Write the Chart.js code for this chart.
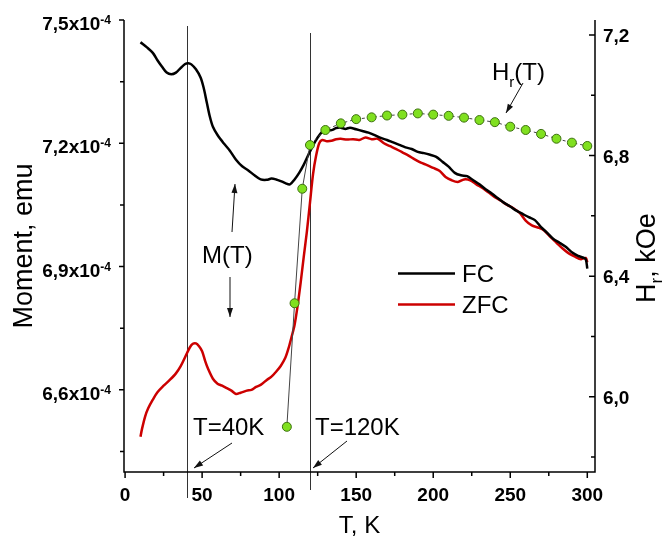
<!DOCTYPE html>
<html>
<head>
<meta charset="utf-8">
<script src="https://cdn.jsdelivr.net/npm/chart.js@4"></script>
<style>
  body { margin: 0; background: #fff; }
  #wrap { width: 668px; height: 537px; }
</style>
</head>
<body>
<div id="wrap"><canvas id="myChart"></canvas></div>
<script>
// temperature sweep, K
var fcTemp = [10, 14, 18, 21, 24, 27, 30, 33, 36, 39, 41, 43, 46, 49, 51, 53, 55, 57, 60, 64,
  68, 72, 76, 80, 84, 88, 92, 95, 98, 101, 104, 107, 110, 113, 116, 119, 122, 125, 128, 131,
  134, 137, 140, 143, 146, 150, 154, 158, 162, 166, 170, 174, 178, 182, 186, 190, 194, 198, 202, 206,
  210, 214, 218, 222, 226, 230, 234, 238, 242, 246, 250, 254, 258, 262, 266, 270, 274, 278, 282, 286,
  290, 294, 297, 299, 300];
// field-cooled moment, units of 1e-4 emu
var fcMoment = [7.446, 7.434, 7.420, 7.402, 7.386, 7.372, 7.368, 7.372, 7.383, 7.393, 7.395, 7.392, 7.380, 7.360, 7.335, 7.300, 7.265, 7.240, 7.220, 7.200,
  7.182, 7.160, 7.144, 7.134, 7.122, 7.112, 7.111, 7.114, 7.112, 7.108, 7.103, 7.100, 7.112, 7.128, 7.148, 7.172, 7.195, 7.214, 7.228, 7.233,
  7.232, 7.237, 7.238, 7.235, 7.238, 7.234, 7.230, 7.226, 7.220, 7.213, 7.208, 7.202, 7.196, 7.190, 7.186, 7.179, 7.176, 7.172, 7.167, 7.155,
  7.143, 7.128, 7.122, 7.120, 7.110, 7.100, 7.088, 7.078, 7.066, 7.055, 7.046, 7.036, 7.028, 7.020, 7.013, 6.996, 6.982, 6.967, 6.958, 6.948,
  6.935, 6.926, 6.922, 6.918, 6.895];

var zfcTemp = [10, 11, 13, 15, 18, 21, 25, 29, 33, 36, 39, 42, 44, 46, 48, 50, 52, 54, 57, 60,
  63, 66, 69, 72, 75, 79, 82, 85, 88, 92, 95, 98, 101, 104, 106, 108, 110, 112, 114, 116,
  118, 120, 122, 124, 126, 128, 131, 134, 137, 140, 144, 148, 152, 156, 160, 164, 168, 172, 176, 180,
  184, 188, 192, 196, 200, 204, 208, 212, 216, 220, 224, 228, 232, 236, 240, 244, 248, 252, 256, 260,
  264, 268, 272, 276, 280, 284, 288, 292, 296, 299, 300];
// zero-field-cooled moment, units of 1e-4 emu
var zfcMoment = [6.486, 6.505, 6.535, 6.555, 6.576, 6.594, 6.610, 6.624, 6.640, 6.657, 6.680, 6.703, 6.712, 6.713, 6.706, 6.694, 6.670, 6.650, 6.627, 6.615,
  6.610, 6.604, 6.598, 6.590, 6.593, 6.598, 6.600, 6.607, 6.612, 6.624, 6.632, 6.644, 6.658, 6.678, 6.700, 6.728, 6.758, 6.805, 6.862, 6.925,
  6.985, 7.055, 7.125, 7.170, 7.200, 7.208, 7.205, 7.206, 7.210, 7.211, 7.209, 7.210, 7.208, 7.214, 7.210, 7.211, 7.200, 7.193, 7.186, 7.178,
  7.170, 7.161, 7.153, 7.147, 7.140, 7.133, 7.118, 7.110, 7.106, 7.112, 7.110, 7.100, 7.091, 7.080, 7.069, 7.060, 7.050, 7.042, 7.031, 7.012,
  7.000, 6.995, 6.988, 6.972, 6.958, 6.944, 6.932, 6.924, 6.918, 6.921, 6.910];

// remanence field, kOe
var hrTemp = [105, 110, 115, 120, 130, 140, 150, 160, 170, 180, 190, 200, 210, 220, 230, 240, 250, 260, 270, 280, 290, 300];
var hrField = [5.90, 6.31, 6.69, 6.835, 6.885, 6.907, 6.921, 6.927, 6.933, 6.936, 6.940, 6.936, 6.932, 6.926, 6.918, 6.911, 6.896, 6.885, 6.872, 6.856, 6.843, 6.832];

var xTicks = [0, 50, 100, 150, 200, 250, 300];
var xMinor = [25, 75, 125, 175, 225, 275];
var leftTicks = [7.5, 7.2, 6.9, 6.6];
var leftMinor = [7.35, 7.05, 6.75, 6.45];
var rightTicks = [7.2, 6.8, 6.4, 6.0];
var rightMinor = [7.0, 6.6, 6.2, 5.8];
var markerTemps = [40, 120];

function pts(xs, ys) {
  return xs.map(function (x, i) { return {x: x, y: ys[i]}; });
}

var FONT = '"Liberation Sans", Arial, sans-serif';

function arrow(ctx, x1, y1, x2, y2) {
  var a = Math.atan2(y2 - y1, x2 - x1);
  ctx.beginPath();
  ctx.moveTo(x1, y1);
  ctx.lineTo(x2, y2);
  ctx.stroke();
  ctx.beginPath();
  ctx.moveTo(x2, y2);
  ctx.lineTo(x2 - 9 * Math.cos(a) + 3 * Math.sin(a), y2 - 9 * Math.sin(a) - 3 * Math.cos(a));
  ctx.lineTo(x2 - 9 * Math.cos(a) - 3 * Math.sin(a), y2 - 9 * Math.sin(a) + 3 * Math.cos(a));
  ctx.closePath();
  ctx.fill();
}

var overlay = {
  id: 'overlay',
  beforeDatasetsDraw: function (chart) {
    var ctx = chart.ctx, x = chart.scales.x;
    var tops = [26, 33], bottoms = [498, 490];
    ctx.save();
    ctx.strokeStyle = '#333';
    ctx.lineWidth = 1;
    markerTemps.forEach(function (t, i) {
      var px = Math.round(x.getPixelForValue(t)) + 0.5;
      ctx.beginPath();
      ctx.moveTo(px, tops[i]);
      ctx.lineTo(px, bottoms[i]);
      ctx.stroke();
    });
    ctx.restore();
  },
  afterDraw: function (chart) {
    var ctx = chart.ctx, a = chart.chartArea;
    var x = chart.scales.x, y = chart.scales.y, y2 = chart.scales.y2;
    ctx.save();
    ctx.strokeStyle = '#000';
    ctx.fillStyle = '#000';
    ctx.lineWidth = 1.5;

    // frame: left, bottom, right
    ctx.beginPath();
    ctx.moveTo(a.left, a.top);
    ctx.lineTo(a.left, a.bottom);
    ctx.lineTo(a.right, a.bottom);
    ctx.lineTo(a.right, a.top);
    ctx.stroke();

    // tick marks
    ctx.beginPath();
    xTicks.forEach(function (v) { var p = x.getPixelForValue(v); ctx.moveTo(p, a.bottom); ctx.lineTo(p, a.bottom + 6); });
    xMinor.forEach(function (v) { var p = x.getPixelForValue(v); ctx.moveTo(p, a.bottom); ctx.lineTo(p, a.bottom + 4); });
    leftTicks.forEach(function (v) { var p = y.getPixelForValue(v); ctx.moveTo(a.left, p); ctx.lineTo(a.left - 5, p); });
    leftMinor.forEach(function (v) { var p = y.getPixelForValue(v); ctx.moveTo(a.left, p); ctx.lineTo(a.left - 4, p); });
    rightTicks.forEach(function (v) { var p = y2.getPixelForValue(v); ctx.moveTo(a.right, p); ctx.lineTo(a.right - 6, p); });
    rightMinor.forEach(function (v) { var p = y2.getPixelForValue(v); ctx.moveTo(a.right, p); ctx.lineTo(a.right - 4, p); });
    ctx.stroke();

    // tick labels
    ctx.textBaseline = 'alphabetic';
    ctx.textAlign = 'center';
    ctx.font = 'bold 19px ' + FONT;
    xTicks.forEach(function (v) { ctx.fillText(String(v), x.getPixelForValue(v), 501); });

    ctx.textAlign = 'right';
    leftTicks.forEach(function (v) {
      var p = y.getPixelForValue(v);
      ctx.font = 'bold 12px ' + FONT;
      var sw = ctx.measureText('-4').width;
      ctx.fillText('-4', 111, p + 4);
      ctx.font = 'bold 19px ' + FONT;
      ctx.fillText(v.toFixed(1).replace('.', ',') + 'x10', 111 - sw, p + 10);
    });

    ctx.textAlign = 'left';
    ctx.font = 'bold 19px ' + FONT;
    rightTicks.forEach(function (v) {
      ctx.fillText(v.toFixed(1).replace('.', ','), 603, y2.getPixelForValue(v) + 7);
    });

    // axis titles
    ctx.font = '24px ' + FONT;
    ctx.textAlign = 'center';
    ctx.fillText('T, K', (a.left + a.right) / 2, 533);

    ctx.save();
    ctx.translate(32, (a.top + a.bottom) / 2);
    ctx.rotate(-Math.PI / 2);
    ctx.font = '27px ' + FONT;
    ctx.fillText('Moment, emu', 0, 0);
    ctx.restore();

    ctx.save();
    ctx.translate(655, 303);
    ctx.rotate(-Math.PI / 2);
    ctx.textAlign = 'left';
    ctx.font = '27px ' + FONT;
    ctx.fillText('H', 0, 0);
    var hw = ctx.measureText('H').width;
    ctx.font = '17px ' + FONT;
    ctx.fillText('r', hw, 7);
    var rw = ctx.measureText('r').width;
    ctx.font = '27px ' + FONT;
    ctx.fillText(', kOe', hw + rw, 0);
    ctx.restore();

    // annotations
    ctx.textAlign = 'left';
    ctx.font = '24px ' + FONT;
    ctx.fillText('T=40K', 193, 435);
    ctx.fillText('T=120K', 315, 435);
    ctx.fillText('M(T)', 202, 263);
    ctx.fillText('H', 492, 80);
    var w = ctx.measureText('H').width;
    ctx.font = '15px ' + FONT;
    ctx.fillText('r', 492 + w, 87);
    var w2 = ctx.measureText('r').width;
    ctx.font = '24px ' + FONT;
    ctx.fillText('(T)', 492 + w + w2, 80);

    ctx.lineWidth = 1;
    ctx.strokeStyle = '#111';
    ctx.fillStyle = '#111';
    arrow(ctx, 232, 443, 194, 468);
    arrow(ctx, 347, 441, 313, 468);
    arrow(ctx, 232, 232, 235, 184);
    arrow(ctx, 230, 277, 230, 317);
    arrow(ctx, 523, 83, 506, 113);

    // legend
    ctx.lineWidth = 2.5;
    ctx.strokeStyle = '#000';
    ctx.beginPath(); ctx.moveTo(398, 273.5); ctx.lineTo(455, 273.5); ctx.stroke();
    ctx.strokeStyle = '#cc0000';
    ctx.beginPath(); ctx.moveTo(398, 304.5); ctx.lineTo(455, 304.5); ctx.stroke();
    ctx.fillStyle = '#000';
    ctx.font = '24px ' + FONT;
    ctx.fillText('FC', 462, 282);
    ctx.fillText('ZFC', 462, 313);
    ctx.restore();
  }
};

var ctx = document.getElementById('myChart').getContext('2d');
var myChart = new Chart(ctx, {
  type: 'line',
  data: {
    datasets: [{
      label: 'Hr(T)',
      data: pts(hrTemp, hrField),
      yAxisID: 'y2',
      borderColor: '#444',
      borderWidth: 1,
      borderDash: [3, 3],
      segment: {
        borderDash: function (c) { return c.p0.parsed.x < 120 ? [] : [3, 3]; }
      },
      pointRadius: 4.5,
      pointBackgroundColor: '#80e020',
      pointBorderColor: '#3d7010',
      pointBorderWidth: 1,
      tension: 0
    }, {
      label: 'FC',
      data: pts(fcTemp, fcMoment),
      yAxisID: 'y',
      borderColor: '#000',
      borderWidth: 2.5,
      pointRadius: 0,
      tension: 0.3
    }, {
      label: 'ZFC',
      data: pts(zfcTemp, zfcMoment),
      yAxisID: 'y',
      borderColor: '#cc0000',
      borderWidth: 2.5,
      pointRadius: 0,
      tension: 0.3
    }]
  },
  options: {
    responsive: true,
    maintainAspectRatio: false,
    animation: false,
    layout: { padding: { left: 124, right: 73, top: 20, bottom: 65 } },
    plugins: {
      legend: { display: false },
      tooltip: { enabled: false }
    },
    scales: {
      x: { type: 'linear', min: -0.7, max: 305, display: false },
      y: { type: 'linear', min: 6.40, max: 7.50, display: false },
      y2: { type: 'linear', min: 5.75, max: 7.25, display: false, position: 'right' }
    }
  },
  plugins: [overlay]
});
</script>
</body>
</html>
